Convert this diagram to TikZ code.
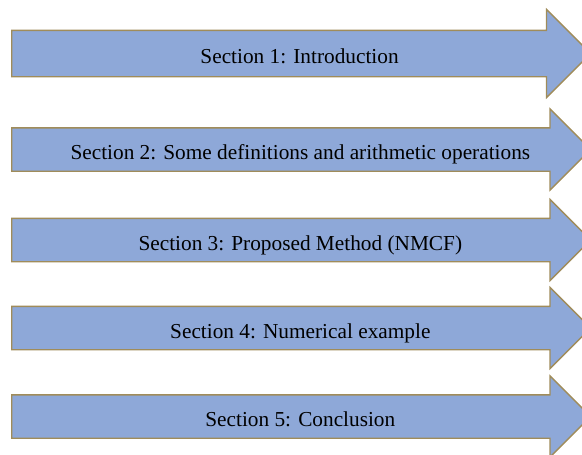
\documentclass[tikz,border=0pt]{standalone}
\usepackage{fontspec}
\setmainfont{Liberation Serif}
\usepackage{xcolor}
\definecolor{arrowblue}{RGB}{142, 168, 216}
\definecolor{arrowedge}{RGB}{160, 140, 90}
\usepackage{tikz}
\usetikzlibrary{
    shapes.arrows,
    positioning
}

\begin{document}
\begin{tikzpicture}[
  x=1pt, y=1pt,
  secarrow/.style={
    single arrow, draw=arrowedge, fill=arrowblue, line width=1.3pt,
    single arrow tip angle=90, single arrow head extend=19pt,
    minimum height=579pt, inner ysep=11pt, anchor=tail,
    execute at begin node=\hspace*{20pt},
    font=\fontsize{21.3}{25}\selectfont
  },
  text height=20pt,
  text depth=0pt
]
\useasboundingbox (0,0) rectangle (582,-455);
\clip (0,0) rectangle (582,-455);

\node (sec1) [secarrow, inner ysep=12.5pt, single arrow head extend=21pt] at (11,-53.5) {Section 1: Introduction};
\node (sec2) [secarrow] at (11,-149.5) {Section 2: Some definitions and arithmetic operations};
\node (sec3) [secarrow] at (11,-240) {Section 3: Proposed Method (NMCF)};
\node (sec4) [secarrow] at (11,-328) {Section 4: Numerical example};
\node (sec5) [secarrow] at (11,-416.5) {Section 5: Conclusion};

\end{tikzpicture}
\end{document}
